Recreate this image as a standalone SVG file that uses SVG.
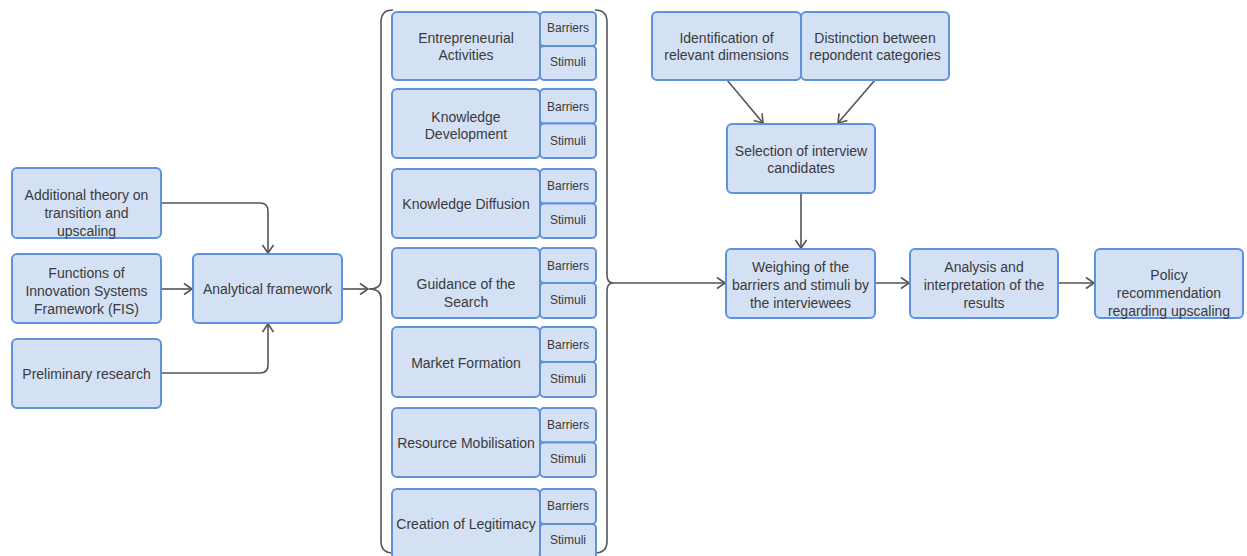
<svg xmlns="http://www.w3.org/2000/svg" width="1247" height="556" viewBox="0 0 1247 556">
  <defs>
    <style>
      .box { fill: #d4e1f5; stroke: #5f92da; stroke-width: 2; }
      .t { font-family: "Liberation Sans", Arial, sans-serif; font-size: 14px; fill: #3a3a3a; text-anchor: middle; }
      .s { font-family: "Liberation Sans", Arial, sans-serif; font-size: 12px; fill: #3a3a3a; text-anchor: middle; }
      .edge { fill: none; stroke: #555555; stroke-width: 1.6; }
      .brace { fill: none; stroke: #555555; stroke-width: 1.6; }
    </style>
    <marker id="arrow" markerUnits="userSpaceOnUse" markerWidth="14" markerHeight="14" refX="10" refY="7" orient="auto">
      <path d="M2,1.5 L10,7 L2,12.5" fill="none" stroke="#555555" stroke-width="1.6"/>
    </marker>
  </defs>
  <rect width="1247" height="556" fill="#ffffff"/>

  <!-- connectors -->
  <g id="connectors">
    <path class="edge" d="M161,203 H260 Q268,203 268,211 V253" marker-end="url(#arrow)"/>
    <path class="edge" d="M161,289 H192" marker-end="url(#arrow)"/>
    <path class="edge" d="M161,373 H260 Q268,373 268,365 V324" marker-end="url(#arrow)"/>
    <path class="edge" d="M342,289 H368" marker-end="url(#arrow)"/>
    <path class="edge" d="M613,283 H725" marker-end="url(#arrow)"/>
    <path class="edge" d="M727,80 L763,123" marker-end="url(#arrow)"/>
    <path class="edge" d="M875,80 L838,123" marker-end="url(#arrow)"/>
    <path class="edge" d="M801,193 V248" marker-end="url(#arrow)"/>
    <path class="edge" d="M875,283 H909" marker-end="url(#arrow)"/>
    <path class="edge" d="M1058,283 H1094" marker-end="url(#arrow)"/>
  </g>

  <!-- braces grouping the system functions -->
  <g id="braces">
    <path class="brace" d="M393,10 Q381,10 381,22 V280 Q381,289 369,289 Q381,289 381,298 V541 Q381,553 393,553"/>
    <path class="brace" d="M595,10 Q607,10 607,22 V275 Q607,283 613,283 Q607,283 607,291 V541 Q607,553 595,553"/>
  </g>

  <!-- inputs -->
  <g id="additional-theory">
    <rect class="box" x="12" y="168" width="149" height="70" rx="5"/>
    <text class="t" x="86.5" y="200">Additional theory on</text>
    <text class="t" x="86.5" y="218">transition and</text>
    <text class="t" x="86.5" y="236">upscaling</text>
  </g>
  <g id="fis">
    <rect class="box" x="12" y="254" width="149" height="69" rx="5"/>
    <text class="t" x="86.5" y="278">Functions of</text>
    <text class="t" x="86.5" y="296">Innovation Systems</text>
    <text class="t" x="86.5" y="313.5">Framework (FIS)</text>
  </g>
  <g id="preliminary-research">
    <rect class="box" x="12" y="339" width="149" height="69" rx="5"/>
    <text class="t" x="86.5" y="379">Preliminary research</text>
  </g>
  <g id="analytical-framework">
    <rect class="box" x="193" y="254" width="149" height="69" rx="5"/>
    <text class="t" x="267.5" y="294">Analytical framework</text>
  </g>

  <!-- system functions with barriers and stimuli -->
  <g id="entrepreneurial-activities">
    <rect class="box" x="392" y="12" width="148" height="68" rx="5"/>
    <rect class="box" x="540" y="12" width="56" height="34" rx="4"/>
    <rect class="box" x="540" y="46" width="56" height="34" rx="4"/>
    <text class="t" x="466" y="43">Entrepreneurial</text>
    <text class="t" x="466" y="60">Activities</text>
    <text class="s" x="568" y="32">Barriers</text>
    <text class="s" x="568" y="66">Stimuli</text>
  </g>
  <g id="knowledge-development">
    <rect class="box" x="392" y="89" width="148" height="69" rx="5"/>
    <rect class="box" x="540" y="89" width="56" height="34.5" rx="4"/>
    <rect class="box" x="540" y="123.5" width="56" height="34.5" rx="4"/>
    <text class="t" x="466" y="122">Knowledge</text>
    <text class="t" x="466" y="139">Development</text>
    <text class="s" x="568" y="111">Barriers</text>
    <text class="s" x="568" y="145">Stimuli</text>
  </g>
  <g id="knowledge-diffusion">
    <rect class="box" x="392" y="169" width="148" height="69" rx="5"/>
    <rect class="box" x="540" y="169" width="56" height="34.5" rx="4"/>
    <rect class="box" x="540" y="203.5" width="56" height="34.5" rx="4"/>
    <text class="t" x="466" y="209">Knowledge Diffusion</text>
    <text class="s" x="568" y="190">Barriers</text>
    <text class="s" x="568" y="224">Stimuli</text>
  </g>
  <g id="guidance-of-the-search">
    <rect class="box" x="392" y="248" width="148" height="70" rx="5"/>
    <rect class="box" x="540" y="248" width="56" height="35" rx="4"/>
    <rect class="box" x="540" y="283" width="56" height="35" rx="4"/>
    <text class="t" x="466" y="289">Guidance of the</text>
    <text class="t" x="466" y="307">Search</text>
    <text class="s" x="568" y="270">Barriers</text>
    <text class="s" x="568" y="304">Stimuli</text>
  </g>
  <g id="market-formation">
    <rect class="box" x="392" y="327" width="148" height="70" rx="5"/>
    <rect class="box" x="540" y="327" width="56" height="35" rx="4"/>
    <rect class="box" x="540" y="362" width="56" height="35" rx="4"/>
    <text class="t" x="466" y="368">Market Formation</text>
    <text class="s" x="568" y="349">Barriers</text>
    <text class="s" x="568" y="383">Stimuli</text>
  </g>
  <g id="resource-mobilisation">
    <rect class="box" x="392" y="408" width="148" height="69" rx="5"/>
    <rect class="box" x="540" y="408" width="56" height="34.5" rx="4"/>
    <rect class="box" x="540" y="442.5" width="56" height="34.5" rx="4"/>
    <text class="t" x="466" y="448">Resource Mobilisation</text>
    <text class="s" x="568" y="429">Barriers</text>
    <text class="s" x="568" y="463">Stimuli</text>
  </g>
  <g id="creation-of-legitimacy">
    <rect class="box" x="392" y="489" width="148" height="70" rx="5"/>
    <rect class="box" x="540" y="489" width="56" height="35" rx="4"/>
    <rect class="box" x="540" y="524" width="56" height="35" rx="4"/>
    <text class="t" x="466" y="529">Creation of Legitimacy</text>
    <text class="s" x="568" y="510">Barriers</text>
    <text class="s" x="568" y="544">Stimuli</text>
  </g>

  <!-- interview design -->
  <g id="identification">
    <rect class="box" x="652" y="12" width="149" height="68" rx="5"/>
    <text class="t" x="726.5" y="43">Identification of</text>
    <text class="t" x="726.5" y="60">relevant dimensions</text>
  </g>
  <g id="distinction">
    <rect class="box" x="801" y="12" width="148" height="68" rx="5"/>
    <text class="t" x="875" y="43">Distinction between</text>
    <text class="t" x="875" y="60">repondent categories</text>
  </g>
  <g id="selection">
    <rect class="box" x="727" y="124" width="148" height="69" rx="5"/>
    <text class="t" x="801" y="156">Selection of interview</text>
    <text class="t" x="801" y="173">candidates</text>
  </g>
  <g id="weighing">
    <rect class="box" x="726" y="249" width="149" height="69" rx="5"/>
    <text class="t" x="800.5" y="272">Weighing of the</text>
    <text class="t" x="800.5" y="290">barriers and stimuli by</text>
    <text class="t" x="800.5" y="308">the interviewees</text>
  </g>
  <g id="analysis">
    <rect class="box" x="910" y="249" width="148" height="69" rx="5"/>
    <text class="t" x="984" y="272">Analysis and</text>
    <text class="t" x="984" y="290">interpretation of the</text>
    <text class="t" x="984" y="308">results</text>
  </g>
  <g id="policy">
    <rect class="box" x="1095" y="249" width="148" height="69" rx="5"/>
    <text class="t" x="1169" y="280">Policy</text>
    <text class="t" x="1169" y="298">recommendation</text>
    <text class="t" x="1169" y="316">regarding upscaling</text>
  </g>
</svg>
